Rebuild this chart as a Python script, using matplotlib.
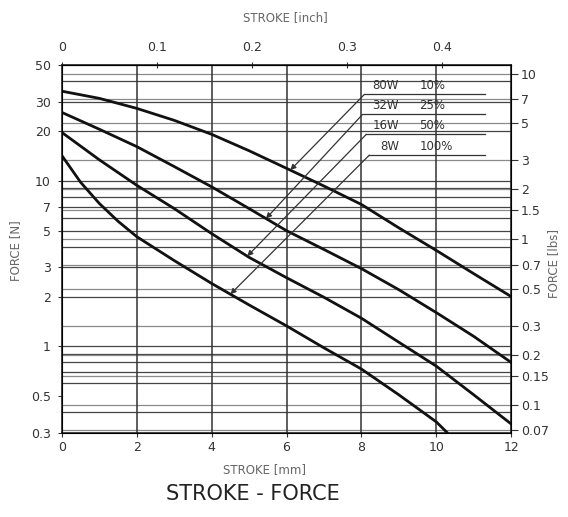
import numpy as np
import matplotlib
matplotlib.use("Agg")
import matplotlib.pyplot as plt
from matplotlib.ticker import NullLocator

plt.rcParams['font.family'] = ['DejaVu Sans']

# stroke [mm] and force [N]
stroke_mm = [0, 1, 2, 3, 4, 5, 6, 7, 8, 9, 10, 11, 12]
force_80w = [34.8, 31.5, 27.4, 23.2, 19.1, 15.2, 11.9, 9.3, 7.2, 5.2, 3.8, 2.75, 2.0]
force_32w = [25.9, 20.5, 16.1, 12.2, 9.2, 6.8, 5.0, 3.85, 2.95, 2.2, 1.6, 1.15, 0.80]
force_16w = [19.6, 13.4, 9.4, 6.8, 4.8, 3.45, 2.6, 1.98, 1.48, 1.06, 0.76, 0.51, 0.34]
stroke_8w = [0, 0.5, 1, 1.5, 2, 3, 4, 5, 6, 7, 8, 9, 10, 10.3]
force_8w = [14.2, 9.8, 7.3, 5.7, 4.6, 3.3, 2.4, 1.78, 1.33, 0.98, 0.73, 0.51, 0.35, 0.30]

watts = ["80W", "32W", "16W", "8W"]
duty = ["10%", "25%", "50%", "100%"]

n_ticks = [0.3, 0.5, 1, 2, 3, 5, 7, 10, 20, 30, 50]
n_labels = ["0.3", "0.5", "1", "2", "3", "5", "7", "10", "20", "30", "50"]
lb_ticks = [0.07, 0.1, 0.15, 0.2, 0.3, 0.5, 0.7, 1, 1.5, 2, 3, 5, 7, 10]
lb_labels = ["0.07", "0.1", "0.15", "0.2", "0.3", "0.5", "0.7", "1", "1.5", "2", "3", "5", "7", "10"]
inch_ticks = [0, 0.1, 0.2, 0.3, 0.4]
inch_labels = ["0", "0.1", "0.2", "0.3", "0.4"]
n_grid = [0.4, 0.6, 0.7, 0.8, 0.9, 1, 2, 3, 4, 5, 6, 7, 8, 9, 10, 20, 30, 40]

N2LB = 0.224809
MM2IN = 1 / 25.4

fig = plt.figure(figsize=(5.68, 5.17), dpi=100)
ax = fig.add_axes([0.109, 0.1625, 0.791, 0.7115])

ax.set_xlim(0, 12)
ax.set_yscale('log')
ax.set_ylim(0.3, 50)

# grid
for v in n_grid:
    ax.axhline(v, color='#444444', lw=0.9, zorder=1)
for v in lb_ticks:
    ax.axhline(v / N2LB, color='#8a8a8a', lw=0.9, zorder=1)
for v in [2, 4, 6, 8, 10]:
    ax.axvline(v, color='#333333', lw=1.1, zorder=1)

curves = [(stroke_mm, force_80w), (stroke_mm, force_32w),
          (stroke_mm, force_16w), (stroke_8w, force_8w)]
for xs, ys in curves:
    ax.plot(xs, ys, color='#111111', lw=2.0, zorder=3,
            solid_capstyle='round', solid_joinstyle='round')

# leader lines with labels
tip_x = [6.1, 5.45, 4.95, 4.5]
start_pts = [(8.08, 33.3), (8.03, 25.2), (8.13, 19.1), (8.21, 14.3)]
line_end = 11.3
for (xs, ys), tx, (sx, sy), w, d in zip(curves, tip_x, start_pts, watts, duty):
    ty = 10 ** np.interp(tx, xs, np.log10(ys))
    ax.annotate("", xy=(tx, ty), xytext=(sx, sy),
                arrowprops=dict(arrowstyle='-|>', color='#333333', lw=0.9,
                                mutation_scale=8, shrinkA=0, shrinkB=0),
                zorder=4)
    ax.plot([sx, line_end], [sy, sy], color='#333333', lw=0.9, zorder=4)
    ax.text(9.0, sy * 1.035, w, ha='right', va='bottom', fontsize=8.5,
            color='#333333', zorder=5)
    ax.text(9.55, sy * 1.035, d, ha='left', va='bottom', fontsize=8.5,
            color='#333333', zorder=5)

# left axis
ax.yaxis.set_minor_locator(NullLocator())
ax.set_yticks(n_ticks)
ax.set_yticklabels(n_labels)
ax.set_xticks([0, 2, 4, 6, 8, 10, 12])
ax.set_xticklabels(["0", "2", "4", "6", "8", "10", "12"])
ax.tick_params(axis='both', labelsize=9, colors='#333333', length=3, width=0.8)
ax.tick_params(axis='x', pad=3)
ax.tick_params(axis='y', pad=5)
for s in ax.spines.values():
    s.set_color('#222222')
    s.set_linewidth(1.2)

# right axis [lbs]
ax2 = ax.twinx()
ax2.set_yscale('log')
ax2.set_ylim(0.3 * N2LB, 50 * N2LB)
ax2.yaxis.set_minor_locator(NullLocator())
ax2.set_yticks(lb_ticks)
ax2.set_yticklabels(lb_labels)
ax2.tick_params(axis='y', labelsize=9, colors='#333333', length=5, width=0.8, pad=2)

# top axis [inch]
ax3 = ax.secondary_xaxis('top', functions=(lambda x: x * MM2IN, lambda x: x / MM2IN))
ax3.set_xticks(inch_ticks)
ax3.set_xticklabels(inch_labels)
ax3.tick_params(axis='x', labelsize=9, colors='#333333', length=4, width=0.8,
                direction='inout', pad=6)

fig.text(0.027, 0.515, "FORCE [N]", rotation=90, ha='center', va='center',
         fontsize=8.5, color='#666666')
fig.text(0.975, 0.49, "FORCE [lbs]", rotation=90, ha='center', va='center',
         fontsize=8.5, color='#666666')
fig.text(0.502, 0.966, "STROKE [inch]", ha='center', va='center',
         fontsize=8.5, color='#666666')
fig.text(0.465, 0.092, "STROKE [mm]", ha='center', va='center',
         fontsize=8.5, color='#666666')
fig.text(0.445, 0.045, "STROKE - FORCE", ha='center', va='center',
         fontsize=15, color='#222222')

fig.savefig("out.png", dpi=100)
